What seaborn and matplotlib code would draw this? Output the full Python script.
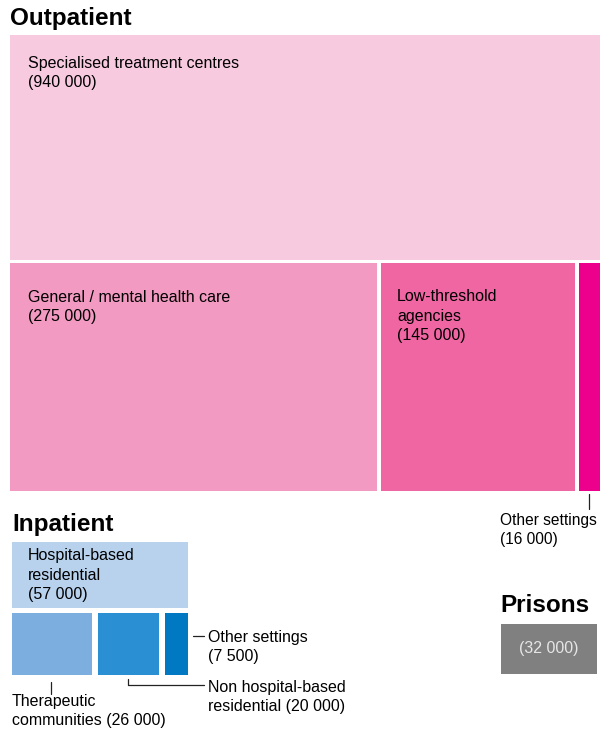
import numpy as np
import pandas as pd
import seaborn as sns
import matplotlib.pyplot as plt

sns.set_theme(style="white")
plt.rcParams['font.family'] = ['Liberation Sans', 'DejaVu Sans']
plt.rcParams['text.color'] = 'black'

# data
out_labels = ["Specialised treatment centres", "General / mental health care",
              "Low-threshold\nagencies", "Other settings"]
out_values = [940000, 275000, 145000, 16000]
out_colors = ["#F8CADF", "#F29AC1", "#EF66A3", "#EC008C"]

in_labels = ["Hospital-based\nresidential", "Therapeutic\ncommunities",
             "Non hospital-based\nresidential", "Other settings"]
in_values = [57000, 26000, 20000, 7500]
in_colors = ["#B8D2EE", "#7CAEDF", "#2B8FD3", "#0079C2"]

prison_value = 32000


def fmt(v):
    return "({:,})".format(v).replace(",", " ")


def strip(values, x0, total_w, gap):
    vals = np.array(values, dtype=float)
    widths = (total_w - gap * (len(vals) - 1)) * vals / vals.sum()
    xs = x0 + np.concatenate([[0], np.cumsum(widths + gap)[:-1]])
    return xs, widths


fig = plt.figure(figsize=(6, 7.31), dpi=100)
ax = fig.add_axes([0, 0, 1, 1])
ax.set_xlim(0, 600)
ax.set_ylim(731, 0)
ax.axis("off")

fs = 11.5
ls = 1.4
title_fs = 17.5
lc = "#222222"

# Outpatient
ax.text(10, 18, "Outpatient", fontsize=title_fs, fontweight="bold", va="center", ha="left")
ax.bar(10, 225, width=590, bottom=35, align="edge", color=out_colors[0], linewidth=0)
ax.text(28, 73, out_labels[0] + "\n" + fmt(out_values[0]), fontsize=fs, va="center",
        linespacing=ls)
xs, ws = strip(out_values[1:], 10, 590, 4)
ax.bar(xs, 228, width=ws, bottom=263, align="edge", color=out_colors[1:], linewidth=0)
ax.text(xs[0] + 18, 307, out_labels[1] + "\n" + fmt(out_values[1]), fontsize=fs,
        va="center", linespacing=ls)
ax.text(xs[1] + 16, 316, out_labels[2] + "\n" + fmt(out_values[2]), fontsize=fs,
        va="center", linespacing=ls)
xo = xs[2] + ws[2] / 2
ax.plot([xo, xo], [494, 509], color=lc, lw=0.9)
ax.text(500, 530, out_labels[3] + "\n" + fmt(out_values[3]), fontsize=11.2, va="center",
        linespacing=ls)

# Inpatient
ax.text(12, 524, "Inpatient", fontsize=title_fs, fontweight="bold", va="center", ha="left")
in_total = sum(in_values)
block_h = 133
top_h = (block_h - 5) * in_values[0] / in_total
ax.bar(12, top_h, width=176, bottom=542, align="edge", color=in_colors[0], linewidth=0)
ax.text(28, 575, in_labels[0] + "\n" + fmt(in_values[0]), fontsize=fs, va="center",
        linespacing=ls)
y_row = 542 + top_h + 5
ixs, iws = strip(in_values[1:], 12, 176, 6)
ax.bar(ixs, 542 + block_h - y_row, width=iws, bottom=y_row, align="edge",
       color=in_colors[1:], linewidth=0)

# leader lines inpatient
xt = ixs[0] + iws[0] / 2 - 1
ax.plot([xt, xt], [682, 694], color=lc, lw=0.9)
ax.text(12, 711, "Therapeutic\ncommunities " + fmt(in_values[1]), fontsize=fs,
        va="center", linespacing=ls)
xn = ixs[1] + iws[1] / 2
ax.plot([xn, xn, 204], [679, 685, 685], color=lc, lw=0.9)
ax.text(208, 697, in_labels[2].split("\n")[0] + "\n" + in_labels[2].split("\n")[1] + " "
        + fmt(in_values[2]), fontsize=fs, va="center", linespacing=ls)
ax.plot([193, 204], [636, 636], color=lc, lw=0.9)
ax.text(208, 647, in_labels[3] + "\n" + fmt(in_values[3]), fontsize=fs, va="center",
        linespacing=ls)

# Prisons
ax.text(500, 606, "Prisons", fontsize=title_fs, fontweight="bold", va="center", ha="left")
ax.bar(501, 50, width=96, bottom=624, align="edge", color="#808080", linewidth=0)
ax.text(549, 649, fmt(prison_value), fontsize=fs, va="center", ha="center", color="#E6E6E6")

fig.savefig("out.png", dpi=100)
